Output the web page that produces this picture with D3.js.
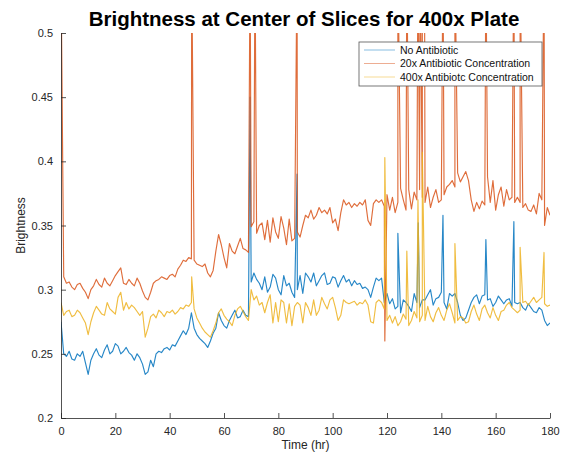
<!DOCTYPE html>
<html>
<head>
<meta charset="utf-8">
<script src="https://cdn.jsdelivr.net/npm/d3@7"></script>
<style>
  body { margin: 0; background: #fff; }
  svg { font-family: "Liberation Sans", Arial, sans-serif; }
</style>
</head>
<body>
<svg id="chart" width="565" height="455"></svg>
<script>
// sampled once per hour, 0..180
var hours = d3.range(0, 181);

var noAntibiotic = [
  0.275,0.250,0.248,0.252,0.246,0.245,0.250,0.248,0.252,0.243,
  0.234,0.245,0.250,0.254,0.249,0.247,0.253,0.257,0.250,0.252,
  0.258,0.256,0.250,0.252,0.255,0.251,0.249,0.245,0.250,0.247,
  0.242,0.234,0.236,0.245,0.240,0.250,0.252,0.251,0.254,0.255,
  0.253,0.257,0.256,0.260,0.264,0.268,0.265,0.270,0.282,0.270,
  0.265,0.262,0.260,0.258,0.255,0.260,0.266,0.270,0.282,0.276,
  0.272,0.270,0.276,0.280,0.284,0.278,0.279,0.284,0.280,0.279,
  0.306,0.313,0.308,0.305,0.300,0.310,0.298,0.302,0.312,0.309,
  0.300,0.296,0.311,0.303,0.305,0.298,0.294,0.300,0.311,0.297,
  0.313,0.310,0.306,0.313,0.303,0.307,0.311,0.313,0.304,0.305,
  0.310,0.309,0.302,0.307,0.311,0.306,0.308,0.303,0.307,0.304,
  0.305,0.301,0.302,0.300,0.294,0.302,0.309,0.307,0.309,0.290,
  0.297,0.289,0.293,0.285,0.287,0.282,0.292,0.290,0.287,0.283,
  0.297,0.290,0.286,0.292,0.292,0.296,0.300,0.288,0.293,0.294,
  0.298,0.290,0.285,0.297,0.295,0.297,0.290,0.280,0.276,0.278,
  0.284,0.290,0.294,0.296,0.289,0.295,0.296,0.292,0.293,0.287,
  0.290,0.295,0.292,0.289,0.292,0.293,0.287,0.290,0.289,0.290,
  0.286,0.284,0.289,0.286,0.283,0.282,0.286,0.284,0.276,0.272,
  0.274
];

var antibiotic20x = [
  0.550,0.310,0.305,0.306,0.302,0.300,0.304,0.305,0.301,0.298,
  0.293,0.300,0.303,0.308,0.304,0.302,0.309,0.305,0.303,0.307,
  0.311,0.314,0.317,0.305,0.304,0.308,0.305,0.303,0.309,0.305,
  0.299,0.294,0.292,0.298,0.305,0.307,0.308,0.310,0.309,0.308,
  0.311,0.312,0.310,0.316,0.319,0.323,0.322,0.325,0.324,0.323,
  0.320,0.319,0.318,0.320,0.313,0.310,0.315,0.330,0.343,0.335,
  0.325,0.317,0.336,0.330,0.328,0.334,0.340,0.332,0.331,0.329,
  0.349,0.353,0.344,0.350,0.352,0.339,0.354,0.337,0.356,0.345,
  0.340,0.357,0.348,0.335,0.355,0.338,0.340,0.345,0.341,0.350,
  0.358,0.356,0.362,0.355,0.358,0.364,0.360,0.362,0.359,0.364,
  0.352,0.355,0.346,0.360,0.370,0.366,0.368,0.364,0.367,0.365,
  0.368,0.366,0.370,0.354,0.350,0.367,0.370,0.368,0.370,0.365,
  0.374,0.362,0.372,0.360,0.368,0.379,0.370,0.362,0.378,0.363,
  0.376,0.370,0.378,0.372,0.368,0.380,0.364,0.372,0.378,0.368,
  0.370,0.374,0.380,0.382,0.385,0.380,0.391,0.384,0.388,0.392,
  0.385,0.370,0.361,0.368,0.363,0.369,0.366,0.388,0.368,0.385,
  0.362,0.374,0.380,0.365,0.378,0.370,0.372,0.368,0.372,0.368,
  0.364,0.367,0.362,0.361,0.366,0.359,0.375,0.370,0.350,0.364,
  0.358
];

var antibiotic400x = [
  0.290,0.280,0.283,0.284,0.279,0.280,0.284,0.282,0.278,0.274,
  0.265,0.275,0.282,0.287,0.284,0.281,0.280,0.290,0.285,0.283,
  0.281,0.294,0.298,0.284,0.290,0.285,0.288,0.286,0.283,0.280,
  0.283,0.263,0.270,0.279,0.281,0.278,0.284,0.282,0.279,0.283,
  0.282,0.284,0.281,0.283,0.286,0.285,0.288,0.287,0.290,0.285,
  0.278,0.274,0.270,0.267,0.265,0.263,0.268,0.274,0.282,0.285,
  0.280,0.277,0.275,0.272,0.280,0.285,0.287,0.283,0.279,0.276,
  0.300,0.292,0.295,0.288,0.290,0.282,0.290,0.296,0.274,0.290,
  0.275,0.292,0.290,0.274,0.289,0.272,0.287,0.290,0.288,0.274,
  0.290,0.286,0.280,0.292,0.280,0.284,0.294,0.289,0.285,0.292,
  0.294,0.286,0.276,0.280,0.292,0.290,0.289,0.290,0.291,0.288,
  0.290,0.289,0.292,0.288,0.275,0.274,0.290,0.292,0.290,0.285,
  0.276,0.280,0.274,0.279,0.272,0.275,0.281,0.277,0.272,0.276,
  0.283,0.278,0.275,0.280,0.276,0.287,0.279,0.275,0.282,0.286,
  0.280,0.276,0.284,0.289,0.282,0.274,0.276,0.279,0.278,0.274,
  0.275,0.283,0.288,0.281,0.276,0.285,0.288,0.282,0.278,0.286,
  0.280,0.276,0.283,0.284,0.288,0.290,0.286,0.284,0.282,0.284,
  0.290,0.291,0.288,0.291,0.294,0.290,0.292,0.294,0.289,0.287,
  0.288
];

// short one-sample spikes between the hourly readings: [hour, value]
var noAntibioticSpikes = [[69.6,0.450],[86.9,0.390],[124,0.344],[131.5,0.352],[140.6,0.358],[156.4,0.339],[166.7,0.353]];
var antibiotic20xSpikes = [[48.1,0.56],[69.6,0.56],[71.4,0.56],[86.9,0.56],[119.2,0.260],[124,0.56],[127.3,0.56],
  [131.4,0.56],[132.2,0.56],[133,0.56],[133.8,0.56],[140.6,0.56],[145,0.56],[156.4,0.56],[166.7,0.56],[169,0.56],[177.8,0.56]];
var antibiotic400xSpikes = [[48.1,0.310],[119.2,0.403],[127.3,0.330],[131.4,0.370],[133,0.407],[145,0.336],[169,0.333],[177.8,0.329]];

var seriesNames = ["No Antibiotic", "20x Antibiotic Concentration", "400x Antibiotc Concentration"];
var xTicks = [0, 20, 40, 60, 80, 100, 120, 140, 160, 180];
var yTicks = [0.2, 0.25, 0.3, 0.35, 0.4, 0.45, 0.5];

var colors = ["#0072BD", "#D95319", "#EDB120"];
var axisColor = "#262626";

var margin = {top: 33, right: 15, bottom: 37, left: 61},
    width = 565, height = 455;

var svg = d3.select("#chart");

var x = d3.scaleLinear().domain([0, 180]).range([margin.left, width - margin.right]);
var y = d3.scaleLinear().domain([0.2, 0.5]).range([height - margin.bottom, margin.top]);

svg.append("defs").append("clipPath").attr("id", "plot-clip")
  .append("rect")
    .attr("x", x(0)).attr("y", y(0.5))
    .attr("width", x(180) - x(0)).attr("height", y(0.2) - y(0.5));

function merge(values, spikes) {
  var pts = hours.map(function(h, i) { return [h, values[i]]; });
  return pts.concat(spikes).sort(function(a, b) { return a[0] - b[0]; });
}

var series = [
  merge(noAntibiotic, noAntibioticSpikes),
  merge(antibiotic20x, antibiotic20xSpikes),
  merge(antibiotic400x, antibiotic400xSpikes)
];

var line = d3.line()
  .x(d => x(d[0]))
  .y(d => y(d[1]));

var g = svg.append("g").attr("clip-path", "url(#plot-clip)");

g.selectAll("path").data(series).enter().append("path")
  .attr("fill", "none")
  .attr("stroke", (d, i) => colors[i])
  .attr("stroke-width", 1.15)
  .attr("stroke-opacity", 0.85)
  .attr("stroke-linejoin", "round")
  .attr("d", line);

// axes, MATLAB style with inward ticks
var xAxis = svg.append("g")
  .attr("transform", "translate(0," + y(0.2) + ")")
  .call(d3.axisBottom(x).tickValues(xTicks).tickSizeInner(-5).tickSizeOuter(0).tickPadding(9));

var yAxis = svg.append("g")
  .attr("transform", "translate(" + x(0) + ",0)")
  .call(d3.axisLeft(y).tickValues(yTicks).tickSizeInner(-5).tickSizeOuter(0).tickPadding(8)
    .tickFormat(d3.format("")));

[xAxis, yAxis].forEach(function(a) {
  a.select(".domain").attr("stroke", axisColor).attr("stroke-width", 0.8);
  a.selectAll(".tick line").attr("stroke", axisColor).attr("stroke-width", 0.8);
  a.selectAll(".tick text").attr("fill", axisColor).attr("font-size", 11)
    .attr("font-family", "'Liberation Sans', Arial, sans-serif");
});

svg.append("text")
  .attr("x", 304)
  .attr("y", 26)
  .attr("text-anchor", "middle")
  .attr("font-size", 20.5)
  .attr("font-weight", "bold")
  .attr("fill", "#000")
  .text("Brightness at Center of Slices for 400x Plate");

svg.append("text")
  .attr("x", (x(0) + x(180)) / 2)
  .attr("y", 449)
  .attr("text-anchor", "middle")
  .attr("font-size", 12)
  .attr("fill", axisColor)
  .text("Time (hr)");

svg.append("text")
  .attr("transform", "translate(25," + ((y(0.2) + y(0.5)) / 2) + ") rotate(-90)")
  .attr("text-anchor", "middle")
  .attr("font-size", 12)
  .attr("fill", axisColor)
  .text("Brightness");

// legend
var legend = svg.append("g").attr("transform", "translate(359,42)");
legend.append("rect")
  .attr("width", 183).attr("height", 44)
  .attr("fill", "#fff").attr("stroke", "#555").attr("stroke-width", 0.8);

var item = legend.selectAll(".item").data(seriesNames).enter().append("g")
  .attr("transform", (d, i) => "translate(0," + (8 + i * 13.5) + ")");
item.append("line")
  .attr("x1", 5).attr("x2", 36)
  .attr("stroke", (d, i) => colors[i])
  .attr("stroke-width", 0.8).attr("stroke-opacity", 0.6);
item.append("text")
  .attr("x", 41).attr("dy", "0.35em")
  .attr("font-size", 10.5)
  .attr("fill", "#111")
  .text(d => d);
</script>
</body>
</html>
